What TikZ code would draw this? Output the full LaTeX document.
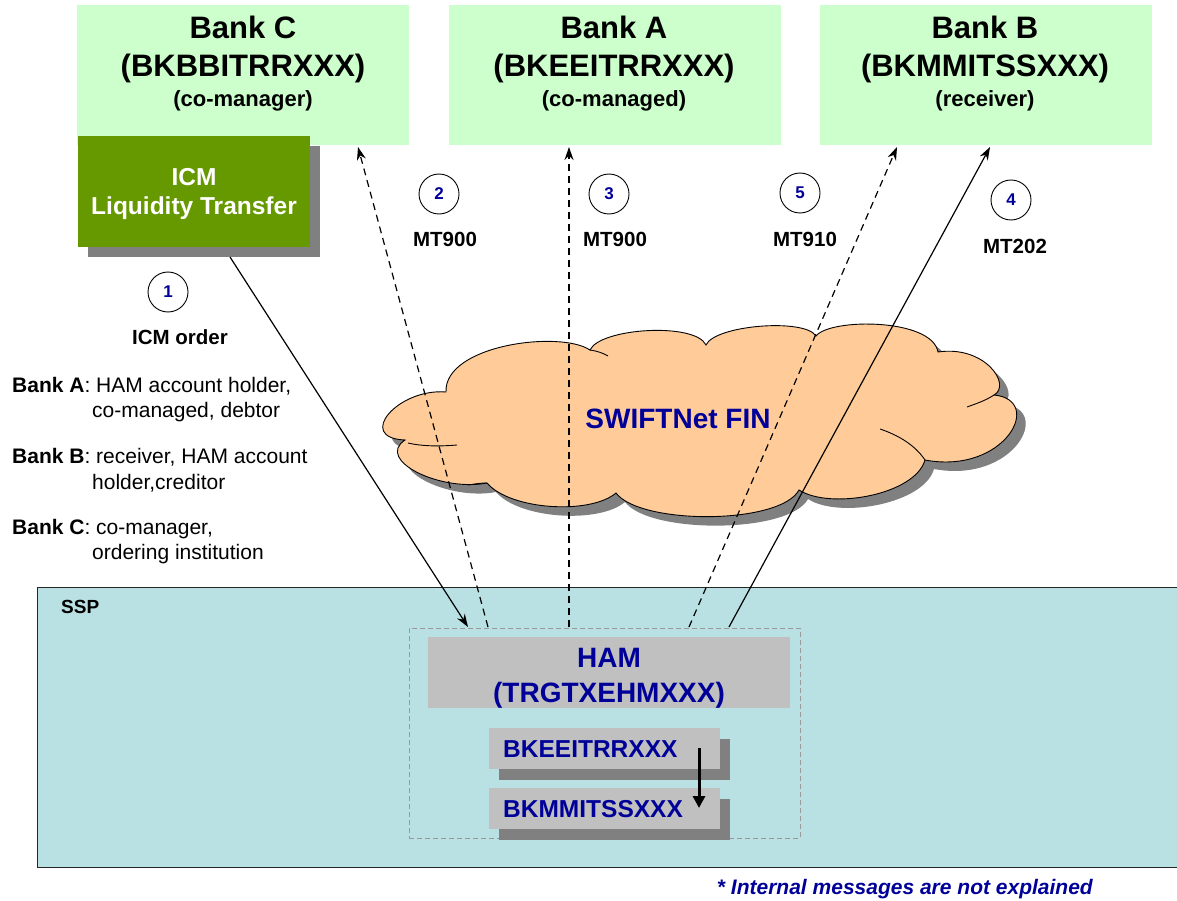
\documentclass[tikz,border=0pt]{standalone}
\usepackage{fontspec}
\setmainfont{Liberation Sans}
\usetikzlibrary{arrows.meta}
\definecolor{bankgreen}{HTML}{CCFFCC}
\definecolor{icmgreen}{HTML}{669900}
\definecolor{shadowgray}{HTML}{808080}
\definecolor{sspblue}{HTML}{B9E0E3}
\definecolor{boxgray}{HTML}{C0C0C0}
\definecolor{cloudfill}{HTML}{FFCC99}
\definecolor{navy}{HTML}{000099}
\newcommand\fsz[1]{\fontsize{#1}{#1}\selectfont}
\newcommand\cloudpath{(405,440) .. controls (355,438) and (398,388) .. (446,392)
 .. controls (444,345) and (560,330) .. (590,350)
 .. controls (600,328) and (695,322) .. (706,345)
 .. controls (715,325) and (805,318) .. (816,336)
 .. controls (830,318) and (932,318) .. (938,352)
 .. controls (985,345) and (1012,385) .. (994,395)
 .. controls (1045,400) and (1005,475) .. (925,460)
 .. controls (915,495) and (830,510) .. (799,490)
 .. controls (780,525) and (640,525) .. (616,493)
 .. controls (590,515) and (510,510) .. (487,483)
 .. controls (440,492) and (375,460) .. cycle}
\tikzset{
  bankbox/.style={fill=bankgreen, draw=none, anchor=north west, minimum width=332pt, minimum height=140pt, inner sep=0pt},
  bigtxt/.style={anchor=base, inner sep=0pt, font=\bfseries\fsz{31}},
  subtxt/.style={anchor=base, inner sep=0pt, font=\bfseries\fsz{22}},
  lbl/.style={anchor=base, inner sep=0pt, font=\bfseries\fsz{20.5}},
  lefttxt/.style={anchor=base west, inner sep=0pt, font=\fsz{21}},
  stepnum/.style={circle, draw=black, line width=0.9pt, minimum size=40pt, inner sep=0pt, text=navy, font=\bfseries\fsz{17}},
  bluetxt/.style={anchor=base, inner sep=0pt, text=navy, font=\bfseries\fsz{28}},
  regtxt/.style={anchor=base west, inner sep=0pt, text=navy, font=\bfseries\fsz{24.5}},
  conn/.style={line width=1.2pt, -{Stealth[length=13pt,width=9pt]}},
  dashconn/.style={conn, dash pattern=on 7pt off 5pt},
  shadowbox/.style={fill=shadowgray, draw=none},
}
\begin{document}
\begin{tikzpicture}[x=1pt,y=-1pt]
\useasboundingbox (0,0) rectangle (1177,901);
% SSP area
\node (ssp) [fill=sspblue, draw=black!85, line width=0.8pt, anchor=north west, minimum width=1160pt, minimum height=280pt, inner sep=0pt] at (37,587) {};
\node (ssplbl) [anchor=base west, inner sep=0pt, font=\bfseries\fsz{19}] at (61,613) {SSP};
% dashed HAM frame
\node (hamframe) [draw=black!40, dash pattern=on 5pt off 3pt, line width=0.8pt, anchor=north west, minimum width=391pt, minimum height=210pt, inner sep=0pt] at (409,628) {};
\node (hambox) [fill=boxgray, anchor=north west, minimum width=362pt, minimum height=71pt, inner sep=0pt] at (428,637) {};
\node (hamt1) [bluetxt] at (609,667) {HAM};
\node (hamt2) [bluetxt] at (609,702) {(TRGTXEHMXXX)};
% account boxes
\fill[shadowbox] (499,739) rectangle (730,780);
\node (acc1) [fill=boxgray, anchor=north west, minimum width=231pt, minimum height=41pt, inner sep=0pt] at (489,728) {};
\node (acc1t) [regtxt] at (503,757) {BKEEITRRXXX};
\fill[shadowbox] (499,799) rectangle (730,840);
\node (acc2) [fill=boxgray, anchor=north west, minimum width=231pt, minimum height=41pt, inner sep=0pt] at (489,788) {};
\node (acc2t) [regtxt] at (503,817) {BKMMITSSXXX};
\coordinate (accA) at (699,748);
\coordinate (accB) at (699,808);
\draw[line width=3pt, -{Triangle[length=12pt,width=12pt]}] (accA) -- (accB);
% banks
\node (bankC) [bankbox] at (77,5) {};
\node (bankA) [bankbox] at (449,5) {};
\node (bankB) [bankbox] at (820,5) {};
\node (bc1) [bigtxt] at (243,39) {Bank C};
\node (bc2) [bigtxt] at (243,77) {(BKBBITRRXXX)};
\node (bc3) [subtxt] at (243,107) {(co-manager)};
\node (ba1) [bigtxt] at (614,39) {Bank A};
\node (ba2) [bigtxt] at (614,77) {(BKEEITRRXXX)};
\node (ba3) [subtxt] at (614,107) {(co-managed)};
\node (bb1) [bigtxt] at (985,39) {Bank B};
\node (bb2) [bigtxt] at (985,77) {(BKMMITSSXXX)};
\node (bb3) [subtxt] at (985,107) {(receiver)};
% ICM box
\fill[shadowbox] (88,146) rectangle (320,257);
\node (icm) [fill=icmgreen, anchor=north west, minimum width=232pt, minimum height=111pt, inner sep=0pt] at (78,136) {};
\node (icm1) [anchor=base, inner sep=0pt, text=white, font=\bfseries\fsz{24.5}] at (194,186) {ICM};
\node (icm2) [anchor=base, inner sep=0pt, text=white, font=\bfseries\fsz{24.5}] at (194,215) {Liquidity Transfer};
% step markers
\node (s1) [stepnum] at (168,292) {1};
\node (l1) [lbl] at (180,344) {ICM order};
\node (s2) [stepnum] at (439,194) {2};
\node (l2) [lbl] at (445,247) {MT900};
\node (s3) [stepnum] at (609,194) {3};
\node (l3) [lbl] at (615,247) {MT900};
\node (s5) [stepnum] at (800,193) {5};
\node (l5) [lbl] at (805,247) {MT910};
\node (s4) [stepnum] at (1011,200) {4};
\node (l4) [lbl] at (1015,254) {MT202};
% left legend
\node (la1) [lefttxt] at (12,392) {\textbf{Bank A}: HAM account holder,};
\node (la2) [lefttxt] at (92,417) {co-managed, debtor};
\node (lb1) [lefttxt] at (12,463) {\textbf{Bank B}: receiver, HAM account};
\node (lb2) [lefttxt] at (92,489) {holder,creditor};
\node (lc1) [lefttxt] at (12,534) {\textbf{Bank C}: co-manager,};
\node (lc2) [lefttxt] at (92,559) {ordering institution};
% cloud
\path[fill=shadowgray, shift={(9,9)}] \cloudpath;
\path[fill=cloudfill, draw=black, line width=0.9pt] \cloudpath;
\draw[line width=0.9pt] (408,443) .. controls (425,447) and (445,446) .. (457,445);
\draw[line width=0.9pt] (590,350) .. controls (597,351) and (603,353) .. (608,356);
\draw[line width=0.9pt] (994,395) .. controls (985,401) and (975,404) .. (967,407);
\draw[line width=0.9pt] (925,460) .. controls (915,445) and (898,435) .. (880,429);
\draw[line width=0.9pt] (487,483) .. controls (480,483) and (475,484) .. (468,485);
\node (swift) [anchor=base, inner sep=0pt, text=navy, font=\bfseries\fsz{28}] at (678,428) {SWIFTNet FIN};
% connectors
\coordinate (icmfoot) at (230,257);
\coordinate (hamin) at (468,627);
\coordinate (hamo2) at (488,627);
\coordinate (hamo3) at (569,627);
\coordinate (hamo5) at (689,627);
\coordinate (hamo4) at (729,627);
\coordinate (cin2) at (358,147);
\coordinate (ain3) at (569,147);
\coordinate (bin5) at (897,147);
\coordinate (bin4) at (990,147);
\draw[conn] (icmfoot) -- (hamin);
\draw[dashconn] (hamo2) -- (cin2);
\draw[dashconn] (hamo3) -- (ain3);
\draw[dashconn] (hamo5) -- (bin5);
\draw[conn] (hamo4) -- (bin4);
% footnote
\node (foot) [anchor=base east, inner sep=0pt, text=navy, font=\bfseries\itshape\fsz{21}] at (1093,894) {* Internal messages are not explained};
\end{tikzpicture}
\end{document}
